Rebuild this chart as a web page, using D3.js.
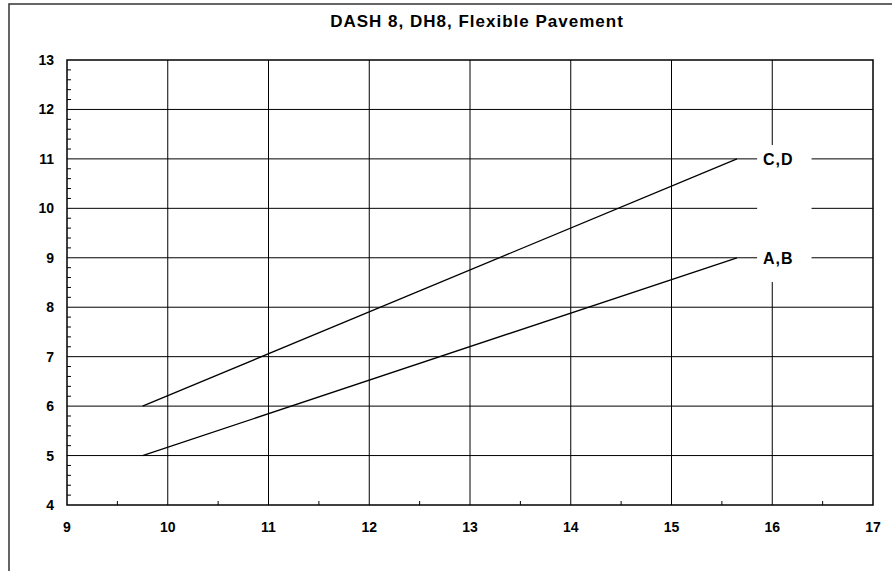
<!DOCTYPE html>
<html><head><meta charset="utf-8">
<script src="https://cdn.jsdelivr.net/npm/d3@7"></script>
<style>body{margin:0;background:#fff}svg{display:block}text{font-family:"Liberation Sans",Arial,sans-serif;font-weight:bold;fill:#000}</style>
</head><body>
<script>
const title = "DASH 8, DH8, Flexible Pavement";
const xTicks = [9, 10, 11, 12, 13, 14, 15, 16, 17];
const yTicks = [4, 5, 6, 7, 8, 9, 10, 11, 12, 13];
const seriesNames = ["A,B", "C,D"];
const seriesX = [[9.75, 15.65], [9.75, 15.65]];
const seriesY = [[5, 9], [6, 11]];
const labelX = [16.06, 16.06];

const W = 892, H = 571;
const svg = d3.select("body").append("svg").attr("width", W).attr("height", H);
const x = d3.scaleLinear().domain([9, 17]).range([67, 873]);
const y = d3.scaleLinear().domain([4, 13]).range([505, 60]);

// outer frame
svg.append("rect").attr("x", 9).attr("y", 4).attr("width", 1000).attr("height", 1000)
  .attr("fill", "none").attr("stroke", "#333").attr("stroke-width", 1.5);

svg.append("text").attr("x", 477).attr("y", 27).attr("text-anchor", "middle")
  .style("font-size", "17px").style("letter-spacing", "1px").text(title);

const g = svg.append("g");
// gridlines
g.selectAll(".gx").data(xTicks.slice(1, -1)).join("line")
  .attr("x1", d => x(d)).attr("x2", d => x(d)).attr("y1", y(13)).attr("y2", y(4))
  .attr("stroke", "#000").attr("stroke-width", 1);
g.selectAll(".gy").data(yTicks.slice(1, -1)).join("line")
  .attr("y1", d => y(d)).attr("y2", d => y(d)).attr("x1", x(9)).attr("x2", x(17))
  .attr("stroke", "#000").attr("stroke-width", 1);

// minor ticks
const xMinor = d3.range(9.5, 17, 1);
g.selectAll(".mx").data(xMinor).join("line")
  .attr("x1", d => x(d)).attr("x2", d => x(d)).attr("y1", y(4)).attr("y2", y(4) - 4)
  .attr("stroke", "#000");
const yMinor = d3.range(4, 13.01, 0.2).filter(v => Math.abs(v - Math.round(v)) > 0.01);
g.selectAll(".my").data(yMinor).join("line")
  .attr("y1", d => y(d)).attr("y2", d => y(d)).attr("x1", x(9)).attr("x2", x(9) + 4)
  .attr("stroke", "#000");

// label background gap
g.append("rect").attr("x", x(15.85)).attr("y", y(11.28))
  .attr("width", x(16.39) - x(15.85)).attr("height", y(8.51) - y(11.28)).attr("fill", "#fff");

// plot border
g.append("rect").attr("x", x(9)).attr("y", y(13)).attr("width", x(17) - x(9)).attr("height", y(4) - y(13))
  .attr("fill", "none").attr("stroke", "#000").attr("stroke-width", 1.5);

// series lines
const line = d3.line().x(d => x(d[0])).y(d => y(d[1]));
seriesNames.forEach((n, i) => {
  const pts = seriesX[i].map((v, j) => [v, seriesY[i][j]]);
  g.append("path").attr("d", line(pts)).attr("fill", "none").attr("stroke", "#000").attr("stroke-width", 1.3);
  g.append("text").attr("x", x(labelX[i])).attr("y", y(seriesY[i][1])).attr("dy", "0.36em")
    .attr("text-anchor", "middle").style("font-size", "16px").style("letter-spacing", "1px").text(n);
});

// tick labels
g.selectAll(".tx").data(xTicks).join("text")
  .attr("x", d => x(d)).attr("y", 532).attr("text-anchor", "middle").style("font-size", "14px").text(d => d);
g.selectAll(".ty").data(yTicks).join("text")
  .attr("x", 54).attr("y", d => y(d)).attr("dy", "0.36em").attr("text-anchor", "end").style("font-size", "14px").text(d => d);
</script>
</body></html>
